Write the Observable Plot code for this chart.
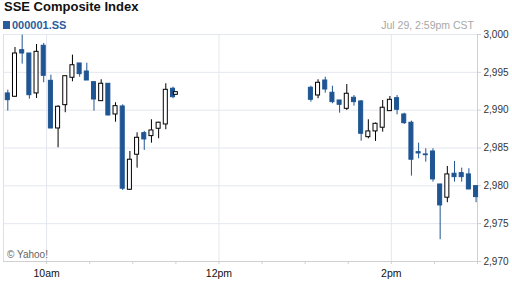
<!DOCTYPE html>
<html><head><meta charset="utf-8">
<script src="https://cdn.jsdelivr.net/npm/d3@7"></script>
<script src="https://cdn.jsdelivr.net/npm/@observablehq/plot@0.6"></script>
<style>
body{margin:0;background:#fff;}
#wrap{position:relative;width:512px;height:288px;overflow:hidden;font-family:"Liberation Sans",Arial,sans-serif;}
#title{position:absolute;left:4px;top:0px;font-size:13px;line-height:14px;font-weight:bold;color:#111;white-space:nowrap;}
#sym{position:absolute;left:12px;top:18.5px;font-size:11px;line-height:12px;font-weight:bold;color:#2b5c9c;white-space:nowrap;}
#sq{position:absolute;left:3px;top:21px;width:7px;height:8px;background:#2b5c9c;}
#date{position:absolute;right:38px;top:18.5px;font-size:10.5px;line-height:12px;color:#a8a8a8;white-space:nowrap;}
#chart{position:absolute;left:0;top:28px;}
#copy{position:absolute;left:7px;top:249px;font-size:10px;line-height:11px;color:#666;white-space:nowrap;}
</style></head><body>
<div id="wrap">
 <div id="title">SSE Composite Index</div>
 <div id="sq"></div>
 <div id="sym">000001.SS</div>
 <div id="date">Jul 29, 2:59pm CST</div>
 <div id="chart"></div>
 <div id="copy">© Yahoo!</div>
</div>
<script>
const times = ["09:33","09:38","09:43","09:48","09:53","09:58","10:03","10:08","10:13","10:18","10:23","10:28","10:33","10:38","10:43","10:48","10:53","10:58","11:03","11:08","11:13","11:18","11:23","11:28","11:30",
"13:04","13:09","13:14","13:19","13:24","13:29","13:34","13:39","13:44","13:49","13:54","13:59","14:04","14:09","14:14","14:19","14:24","14:29","14:34","14:39","14:44","14:49","14:54","14:59"];
const open = [2992.21,2991.77,2997.93,2997.49,2992.21,2998.51,2993.88,2987.58,2990.66,2994.28,2996.17,2995.11,2993.70,2991.19,2993.49,2989.43,2990.49,2979.48,2984.11,2986.96,2986.57,2987.54,2988.11,2992.83,2992.03,
2992.96,2991.94,2993.92,2992.30,2991.28,2990.18,2991.64,2991.15,2986.43,2987.19,2987.68,2989.87,2991.59,2989.43,2988.34,2984.45,2984.15,2984.54,2980.18,2978.43,2981.60,2981.68,2981.51,2979.96];
const high = [2992.64,2998.28,2999.91,2997.49,2998.68,2998.81,2994.62,2990.58,2994.49,2997.27,2996.17,2996.21,2993.70,2994.02,2993.49,2990.98,2990.71,2984.54,2987.01,2987.19,2988.73,2988.41,2993.49,2993.04,2992.38,
2993.17,2994.02,2994.36,2993.17,2991.28,2993.39,2991.94,2991.28,2988.73,2988.30,2991.28,2991.81,2991.94,2989.60,2988.55,2985.64,2984.90,2984.90,2980.18,2982.56,2983.22,2982.34,2982.26,2979.96];
const low = [2989.87,2991.70,2996.08,2991.45,2991.55,2993.62,2987.55,2985.03,2989.66,2993.75,2994.36,2993.92,2989.87,2991.19,2989.25,2988.41,2979.39,2979.39,2982.34,2984.68,2985.64,2986.22,2987.41,2991.51,2992.03,
2991.06,2991.51,2992.25,2990.85,2989.60,2989.96,2990.53,2985.90,2986.22,2985.87,2987.09,2989.87,2989.39,2988.11,2981.28,2983.58,2983.13,2980.49,2972.88,2977.77,2980.49,2980.49,2979.52,2977.77];
const close = [2991.32,2997.49,2997.49,2991.98,2997.71,2994.54,2987.58,2990.45,2994.49,2995.94,2994.76,2993.92,2991.41,2993.49,2989.30,2990.53,2979.62,2983.45,2986.35,2986.13,2987.32,2988.34,2992.69,2991.72,2992.38,
2991.37,2993.62,2992.73,2991.06,2990.71,2992.17,2991.06,2986.88,2987.19,2988.20,2990.32,2991.37,2990.05,2988.28,2983.45,2984.28,2984.05,2980.85,2977.41,2981.51,2981.15,2981.15,2979.52,2978.51];
const yTicks = [2970,2975,2980,2985,2990,2995,3000];
const xMajor = ["10:00","12:00","14:00"];
const xLabels = ["10am","12pm","2pm"];
const xMinor = ["10:00","10:30","11:00","11:30","12:00","12:30","13:00","13:30","14:00","14:30","15:00"];
const sessionStart = "09:30", sessionEnd = "15:00";

const blue = "#1f5592";
const gridC = "#e3e7ef";
const frameC = "#d0d0d0";
const parse = d3.utcParse("%H:%M");
const candles = times.map((t,i)=>({t:parse(t),open:open[i],high:high[i],low:low[i],close:close[i]}));
const up = candles.filter(d=>d.close>d.open);
const down = candles.filter(d=>d.close<=d.open);
const half = 1.75*60000;
const labelMap = new Map(xMajor.map((t,i)=>[+parse(t), xLabels[i]]));
const bx1 = d=>new Date(+d.t-half), bx2 = d=>new Date(+d.t+half);

const chart = Plot.plot({
  width:512, height:260,
  marginTop:6, marginBottom:27, marginLeft:3, marginRight:35,
  style:{fontFamily:"'Liberation Sans', Arial, sans-serif", fontSize:"10px", background:"transparent", overflow:"visible"},
  x:{type:"utc", domain:[parse(sessionStart), parse(sessionEnd)]},
  y:{domain:[2970,3000]},
  marks:[
    Plot.gridY(yTicks, {stroke:gridC, strokeOpacity:1}),
    Plot.gridX(xMajor.map(parse), {stroke:gridC, strokeOpacity:1}),
    Plot.ruleX([parse(sessionStart)], {stroke:"#e0e0e0"}),
    Plot.ruleX([parse(sessionEnd)], {stroke:frameC}),
    Plot.ruleY([2970], {stroke:frameC}),
    Plot.axisX(xMinor.map(parse), {tickSize:3, tickFormat:()=>"", stroke:frameC, label:null}),
    Plot.axisX(xMajor.map(parse), {tickSize:0, tickPadding:8, tickFormat:d=>labelMap.get(+d), fill:"#111", label:null, fontSize:10.5}),
    Plot.axisY(yTicks, {anchor:"right", tickSize:3, tickPadding:3, stroke:frameC, fill:"#333", tickFormat:d3.format(","), label:null}),
    Plot.ruleX(down, {x:"t", y1:"low", y2:"high", stroke:blue}),
    Plot.ruleX(up, {x:"t", y1:"low", y2:"high", stroke:"#000"}),
    Plot.rect(down, {x1:bx1, x2:bx2, y1:"open", y2:"close", fill:blue, stroke:blue, insetLeft:0.5, insetRight:0.5}),
    Plot.rect(up, {x1:bx1, x2:bx2, y1:"open", y2:"close", fill:"#fff", stroke:"#000", insetLeft:0.5, insetRight:0.5})
  ]
});
document.getElementById("chart").appendChild(chart);
</script>
</body></html>
